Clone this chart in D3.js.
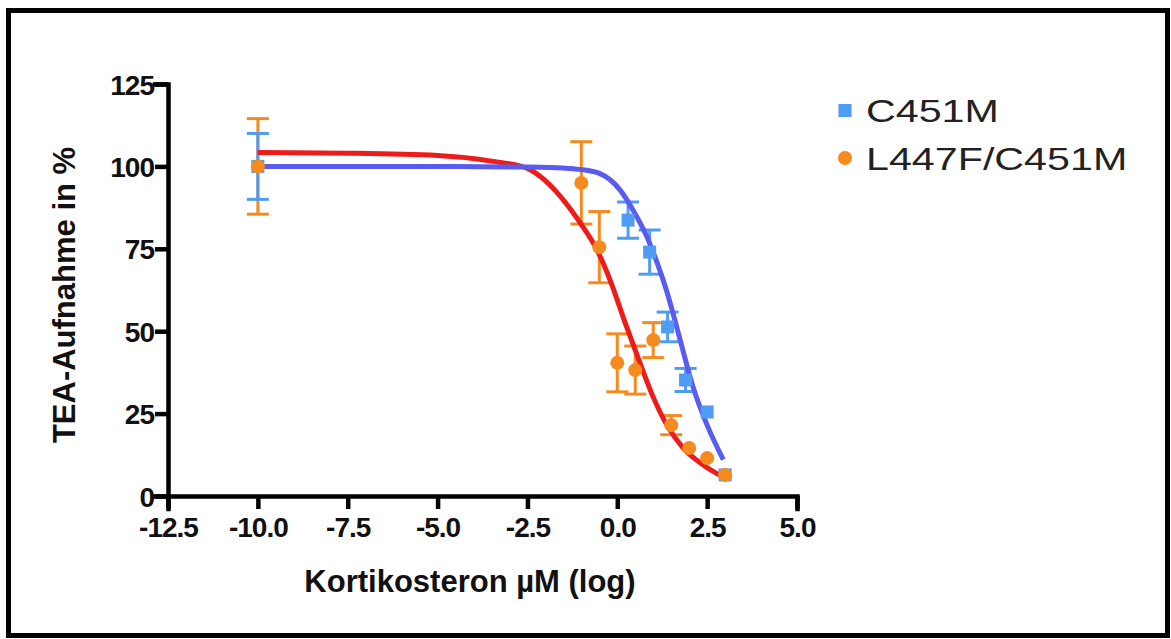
<!DOCTYPE html>
<html lang="de">
<head>
<meta charset="UTF-8">
<title>TEA-Aufnahme</title>
<script src="https://d3js.org/d3.v7.min.js"></script>
<style>
  body { margin: 0; padding: 0; background: #fff; }
  text { font-family: "Liberation Sans", Arial, sans-serif; }
</style>
</head>
<body>
<svg id="chart"></svg>
<script>
// measured points (x = log µM, y = %)
const seriesNames = ["C451M", "L447F/C451M"];

const c451mX   = [-10, 0.3, 0.9, 1.4, 1.9, 2.5, 3.0];
const c451mY   = [100, 83.7, 74, 51.3, 35.2, 25.5, 6.4];
const c451mErr = [10, 5.5, 6.7, 4.5, 3.5, 0, 0];

const mutX   = [-10, -1.0, -0.5, 0.0, 0.5, 1.0, 1.5, 2.0, 2.5, 3.0];
const mutY   = [100, 95, 75.5, 40.4, 38.2, 47.3, 21.5, 14.6, 11.5, 6.4];
const mutErr = [14.5, 12.5, 10.8, 8.8, 7.3, 5.3, 2.9, 0, 0, 0];

// fitted curves
const c451mFitX = [-10, -5, -2.5, -1.5, -1.04, -0.48, 0.08, 0.44, 0.83, 1.11, 1.39, 1.66, 1.83, 2.11, 2.5, 2.95];
const c451mFitY = [100, 100, 99.8, 99.5, 99.1, 97.8, 92.8, 86.7, 78.5, 70.7, 61.6, 51, 44, 33, 21.5, 11];

const mutFitX = [-10, -7.5, -5, -3.5, -2.5, -2.15, -1.59, -1.04, -0.56, -0.2, 0.22, 0.63, 1.0, 1.38, 1.83, 2.39, 2.94];
const mutFitY = [104.2, 104, 103.3, 101.6, 99.4, 97, 91, 83, 74.6, 65.5, 52.5, 40.4, 30, 21.5, 14.6, 9.4, 5.8];

const xTicks = [-12.5, -10, -7.5, -5, -2.5, 0, 2.5, 5];
const yTicks = [0, 25, 50, 75, 100, 125];

const W = 1171, H = 639;
const margin = { top: 84, left: 168, right: 374, bottom: 143 };
const blueMark = "#4f9cf4", blueLine = "#5a5cf0";
const orange = "#f58b1f", red = "#ee1b1b";

const svg = d3.select("#chart").attr("width", W).attr("height", H);

// frame
svg.append("rect")
    .attr("x", 8.5).attr("y", 10.5)
    .attr("width", W - 12).attr("height", H - 14)
    .attr("fill", "#fff").attr("stroke", "#000").attr("stroke-width", 5);

const x = d3.scaleLinear().domain([-12.5, 5]).range([margin.left, W - margin.right]);
const y = d3.scaleLinear().domain([0, 125]).range([H - margin.bottom, margin.top]);

const fmtX = d => d3.format(".1f")(d).replace("\u2212", "-");

const xAxis = svg.append("g")
    .attr("transform", `translate(0,${y(0)})`)
    .call(d3.axisBottom(x).tickValues(xTicks).tickFormat(fmtX)
        .tickSize(13).tickPadding(8));
const yAxis = svg.append("g")
    .attr("transform", `translate(${x(-12.5)},0)`)
    .call(d3.axisLeft(y).tickValues(yTicks).tickSize(13).tickPadding(1));

[xAxis, yAxis].forEach(g => {
    g.select(".domain").attr("stroke-width", 4.5).attr("stroke-linecap", "square");
    g.selectAll(".tick line").attr("stroke-width", 4.5);
    g.selectAll(".tick text")
        .attr("fill", "#111")
        .style("font-size", "28px").style("font-weight", "bold")
        .style("letter-spacing", "-1px");
});
yAxis.selectAll(".tick text").attr("dy", "0.36em");

// axis titles
svg.append("text")
    .attr("x", 470).attr("y", 592)
    .attr("text-anchor", "middle")
    .style("font-size", "31px").style("font-weight", "bold")
    .attr("fill", "#111")
    .text("Kortikosteron µM (log)");

svg.append("text")
    .attr("transform", "rotate(-90)")
    .attr("x", -295).attr("y", 75)
    .attr("text-anchor", "middle")
    .style("font-size", "31px").style("font-weight", "bold")
    .attr("fill", "#111")
    .text("TEA-Aufnahme in %");

const line = d3.line().x(d => x(d[0])).y(d => y(d[1])).curve(d3.curveMonotoneX);

// error bars
function errorBars(xs, ys, es, color) {
    const g = svg.append("g").attr("stroke", color).attr("stroke-width", 3);
    xs.forEach((v, i) => {
        if (!es[i]) return;
        const cx = x(v), y0 = y(ys[i] - es[i]), y1 = y(ys[i] + es[i]);
        g.append("line").attr("x1", cx).attr("x2", cx).attr("y1", y0).attr("y2", y1);
        g.append("line").attr("x1", cx - 11).attr("x2", cx + 11).attr("y1", y0).attr("y2", y0);
        g.append("line").attr("x1", cx - 11).attr("x2", cx + 11).attr("y1", y1).attr("y2", y1);
    });
}

errorBars(mutX, mutY, mutErr, orange);
errorBars(c451mX, c451mY, c451mErr, blueMark);

// fit curves
svg.append("path")
    .datum(mutFitX.map((v, i) => [v, mutFitY[i]]))
    .attr("d", line).attr("fill", "none")
    .attr("stroke", red).attr("stroke-width", 5);
svg.append("path")
    .datum(c451mFitX.map((v, i) => [v, c451mFitY[i]]))
    .attr("d", line).attr("fill", "none")
    .attr("stroke", blueLine).attr("stroke-width", 5);

// markers
svg.append("g").selectAll("rect")
    .data(c451mX.map((v, i) => [v, c451mY[i]]))
    .enter().append("rect")
    .attr("x", d => x(d[0]) - 6.5).attr("y", d => y(d[1]) - 6.5)
    .attr("width", 13).attr("height", 13)
    .attr("fill", blueMark);

svg.append("g").selectAll("circle")
    .data(mutX.map((v, i) => [v, mutY[i]]))
    .enter().append("circle")
    .attr("cx", d => x(d[0])).attr("cy", d => y(d[1]))
    .attr("r", 7)
    .attr("fill", orange);

// legend
const legend = svg.append("g").attr("transform", "translate(845,0)");
legend.append("rect").attr("x", -6.5).attr("y", 104).attr("width", 13).attr("height", 13).attr("fill", blueMark);
legend.append("circle").attr("cx", 0).attr("cy", 158).attr("r", 7).attr("fill", orange);
seriesNames.forEach((name, i) => {
    legend.append("text")
        .attr("transform", `translate(21,${122 + i * 48}) scale(1.33,1)`)
        .style("font-size", "31px")
        .attr("fill", "#222")
        .text(name);
});
</script>
</body>
</html>
